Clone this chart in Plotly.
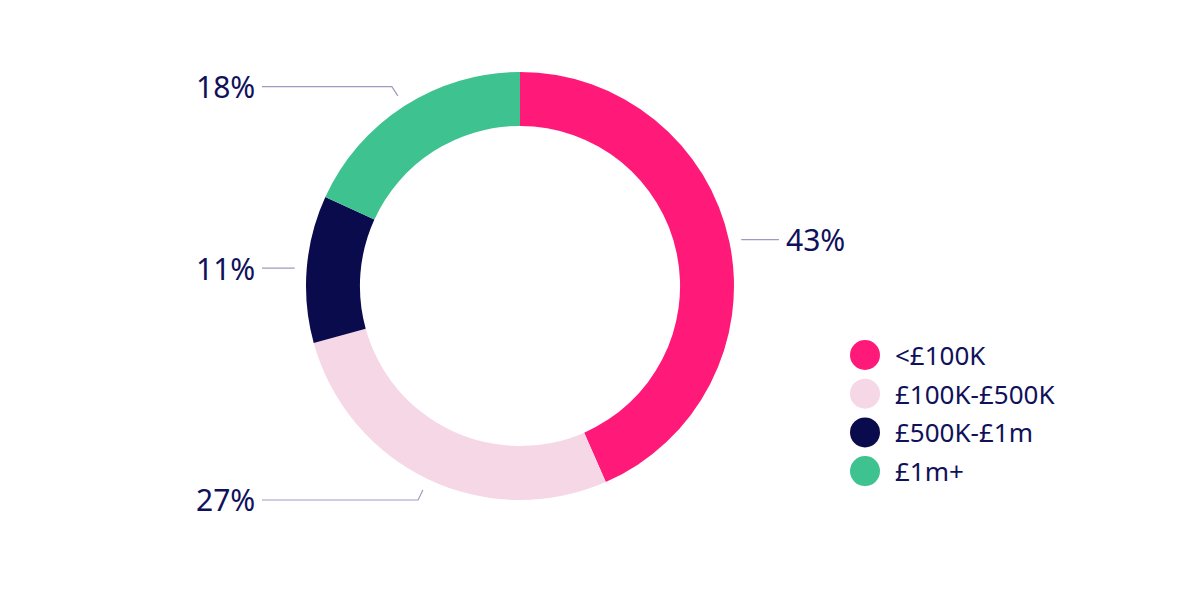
import math
import plotly.graph_objects as go

# ---- data ----
categories = ["<£100K", "£100K-£500K", "£500K-£1m", "£1m+"]
values = [43, 27, 11, 18]
labels = ["43%", "27%", "11%", "18%"]
colors = ["#ff1a7a", "#f6d7e6", "#0a0b4d", "#3ec28f"]

W, H = 1200, 600
CX, CY, R = 520, 286, 214
TEXT = "#10115a"
LINE = "#9c9cc2"
FONT = "Noto Sans"

fig = go.Figure()
fig.add_trace(go.Pie(
    values=values, labels=categories, sort=False, direction="clockwise",
    rotation=0, hole=0.748, textinfo="none", hoverinfo="label+percent",
    marker=dict(colors=colors, line=dict(width=0)), showlegend=False,
    domain=dict(x=[(CX - R) / W, (CX + R) / W], y=[(H - CY - R) / H, (H - CY + R) / H]),
))

def px(x):
    return x / W

def py(y):
    return 1 - y / H

shapes = []
annotations = []
total = sum(values)
cum = 0
for v, lab in zip(values, labels):
    mid = (cum + v / 2) / total * 2 * math.pi
    cum += v
    sx, sy = math.sin(mid), -math.cos(mid)
    x1, y1 = CX + 226 * sx, CY + 226 * sy
    x2, y2 = CX + 237 * sx, CY + 237 * sy
    right = sx > 0
    if abs(sy) < 0.3:
        y2 = y1
        x2 = x1
    x3 = 779 if right else 262
    path = f"M {px(x1)} {py(y1)} L {px(x2)} {py(y2)} L {px(x3)} {py(y2)}"
    shapes.append(dict(type="path", xref="paper", yref="paper", path=path,
                       line=dict(color=LINE, width=1.2)))
    annotations.append(dict(
        xref="paper", yref="paper", x=px(784 if right else 257), y=py(y2),
        xanchor="left" if right else "right", yanchor="middle", showarrow=False,
        text=lab, font=dict(family=FONT, size=30, color=TEXT)))

# legend with round markers
for i, (cat, col) in enumerate(zip(categories, colors)):
    yc = 355 + i * 38.7
    shapes.append(dict(type="circle", xref="paper", yref="paper",
                       x0=px(850), x1=px(880), y0=py(yc - 15), y1=py(yc + 15),
                       fillcolor=col, line=dict(width=0)))
    annotations.append(dict(
        xref="paper", yref="paper", x=px(893), y=py(yc), xanchor="left",
        yanchor="middle", showarrow=False, text=cat,
        font=dict(family=FONT, size=26, color=TEXT)))

fig.update_layout(
    width=W, height=H, margin=dict(l=0, r=0, t=0, b=0),
    paper_bgcolor="white", plot_bgcolor="white",
    shapes=shapes, annotations=annotations, showlegend=False,
)
fig.write_html("out.html")
